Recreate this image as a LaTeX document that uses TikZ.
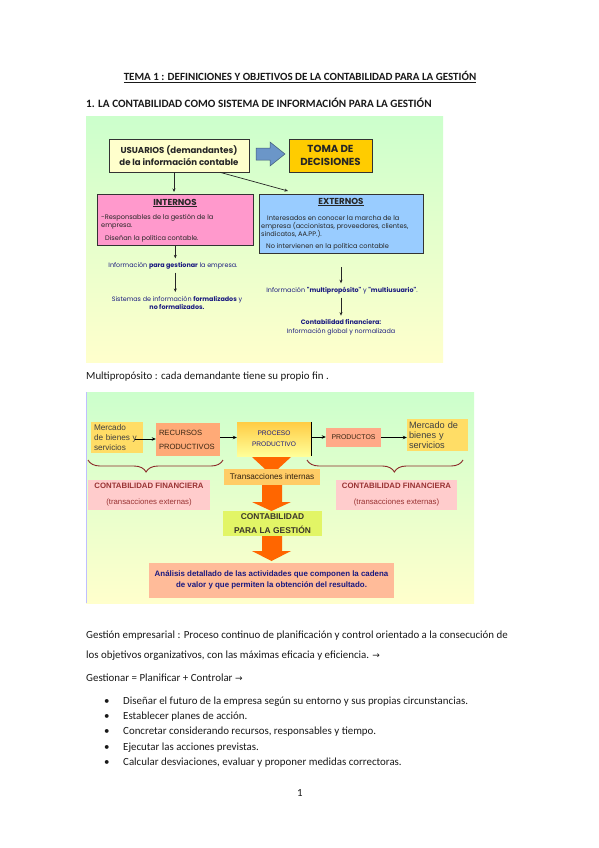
\documentclass[tikz,border=0pt]{standalone}
\usepackage{fontspec}
\setmainfont{Carlito}
\newfontfamily\dfont{Liberation Sans}
\newfontfamily\gfont{Poppins}
\newfontfamily\symf{DejaVu Sans}
\usetikzlibrary{decorations.pathreplacing,arrows.meta}
\definecolor{bggreen}{HTML}{CCFFCC}
\definecolor{bgyellow}{HTML}{FFFFCC}
\definecolor{usufill}{HTML}{FFFFCC}
\definecolor{gold}{HTML}{FFCC00}
\definecolor{pinkfill}{HTML}{FF99CC}
\definecolor{bluefill}{HTML}{99CCFF}
\definecolor{arrowblue}{HTML}{6B96C8}
\definecolor{navy}{HTML}{1A1A80}
\definecolor{mfill}{HTML}{FFDD66}
\definecolor{recfill}{HTML}{FFAA77}
\definecolor{prodfill}{HTML}{FFAA88}
\definecolor{cffill}{HTML}{FFCCCC}
\definecolor{cfred}{HTML}{993333}
\definecolor{transfill}{HTML}{FFCC66}
\definecolor{cgfill}{HTML}{E2F566}
\definecolor{anfill}{HTML}{FFBB99}
\definecolor{orangeA}{HTML}{FF6600}
\definecolor{bracecol}{HTML}{8B2A2A}
\definecolor{proctop}{HTML}{FFCC44}
\definecolor{procbot}{HTML}{FFFF99}
\begin{document}
\begin{tikzpicture}[x=1pt,y=-1pt,
  body/.style={anchor=west, inner sep=0pt, text=black!90, font=\fontsize{10.9}{12}\selectfont},
  arr/.style={-{Stealth[length=3.5pt,width=3pt]}, line width=0.7pt, black!85},
  arrb/.style={-{Stealth[length=4pt,width=3.5pt]}, line width=0.9pt, black},
  d1box/.style={draw=black!80, line width=0.6pt, inner sep=0pt},
  small/.style={inner sep=0pt, font=\gfont\fontsize{6.6}{8}\selectfont, text=black!85},
  smallnavy/.style={inner sep=0pt, font=\gfont\fontsize{6.4}{8.5}\selectfont, text=navy, align=center},
  d2box/.style={inner sep=0pt, draw=none},
  orarrow/.style={fill=orangeA}
]
\useasboundingbox[fill=white] (0,0) rectangle (599,848);

% headings
\node[inner sep=0pt, font=\bfseries\fontsize{11}{12}\selectfont, text=black!90] (title) at (300,77) {\underline{TEMA 1 : DEFINICIONES Y OBJETIVOS DE LA CONTABILIDAD PARA LA GESTIÓN}};
\node[body, font=\bfseries\fontsize{11.2}{12}\selectfont] (head1) at (86,103) {1. LA CONTABILIDAD COMO SISTEMA DE INFORMACIÓN PARA LA GESTIÓN};

% ---------- diagram 1
\shade[top color=bggreen, bottom color=bgyellow] (86,117) rectangle (443,362);

\node[d1box, fill=usufill, minimum width=140, minimum height=33, align=center,
  font=\gfont\bfseries\fontsize{8.6}{12}\selectfont, text=black!85] (usu) at (179,155.5)
  {USUARIOS (demandantes)\\de la información contable};
\node[d1box, fill=gold, minimum width=83, minimum height=33, align=center,
  font=\gfont\bfseries\fontsize{10.2}{13}\selectfont, text=black!85] (toma) at (330.5,155.5)
  {TOMA DE\\DECISIONES};
\draw[fill=arrowblue, draw=arrowblue!60!black, line width=0.5pt]
  (256,148) -- (270,148) -- (270,142) -- (285,154) -- (270,166) -- (270,160) -- (256,160) -- cycle;

\node[d1box, fill=pinkfill, minimum width=156, minimum height=51, anchor=north west] (int) at (97,194) {};
\node[d1box, fill=bluefill, minimum width=164, minimum height=59, anchor=north west] (ext) at (259,194) {};

\node[inner sep=0pt, font=\gfont\bfseries\fontsize{8.7}{10}\selectfont, text=black!85] (intt) at (175,203) {\underline{INTERNOS}};
\node[small, anchor=west] (int1) at (101,218) {-Responsables de la gestión de la};
\node[small, anchor=west] (int2) at (101,227) {empresa.};
\node[small, anchor=west] (int3) at (105,238.5) {Diseñan la política contable.};

\node[inner sep=0pt, font=\gfont\bfseries\fontsize{8.7}{10}\selectfont, text=black!85] (extt) at (341,202) {\underline{EXTERNOS}};
\node[small, anchor=west] (ext1) at (267,218) {Interesados en conocer la marcha de la};
\node[small, anchor=west] (ext2) at (261,226.5) {empresa (accionistas, proveedores, clientes,};
\node[small, anchor=west] (ext3) at (261,234) {sindicatos, AA.PP.).};
\node[small, anchor=west] (ext4) at (266,246.5) {No intervienen en la política contable};

\draw[arr] ([xshift=-5pt]usu.south) -- ([xshift=-5pt,yshift=2pt]usu.south |- int.north);
\draw[arr] ([xshift=41pt]usu.south) -- ([xshift=29pt,yshift=3pt]ext.north west);

\node[smallnavy] (t1) at (173,266) {Información \textbf{para gestionar} la empresa.};
\node[smallnavy] (t2) at (177,303) {Sistemas de información \textbf{formalizados} y\\\textbf{no formalizados.}};
\draw[arr] (int.south) -- ([yshift=4pt]int.south |- t1.north);
\draw[arr] ([yshift=-3pt]int.south |- t1.south) -- ([yshift=4pt]int.south |- t2.north);

\coordinate (c1) at (341,267);
\node[smallnavy] (t3) at (342,291) {Información \textbf{"multipropósito"} y \textbf{"multiusuario"}.};
\node[smallnavy] (t4) at (341,327.5) {\textbf{Contabilidad financiera:}\\Información global y normalizada};
\draw[arr] (c1) -- ([yshift=4pt]c1 |- t3.north);
\draw[arr] ([yshift=-3pt]c1 |- t3.south) -- ([yshift=4pt]c1 |- t4.north);

\node[body] (multi) at (86,377) {Multipropósito : cada demandante tiene su propio fin .};

% ---------- diagram 2
\shade[top color=bggreen, bottom color=bgyellow] (86,392) rectangle (474,603);
\draw[blue!25, line width=0.8pt] (86.4,392) -- (86.4,603);

\node[d2box, fill=mfill, minimum width=52, minimum height=31, text width=46pt, inner xsep=3pt, align=left,
  font=\dfont\fontsize{8.2}{9.8}\selectfont, text=black!75] (m1) at (117,437.5) {Mercado\\de bienes y\\servicios};
\node[d2box, fill=recfill, minimum width=64, minimum height=33, text width=58pt, align=left,
  font=\dfont\fontsize{7.6}{14}\selectfont, text=black!70!brown] (rec) at (188,439.5) {RECURSOS\\PRODUCTIVOS};
\node[d2box, top color=proctop, bottom color=procbot, minimum width=74, minimum height=34, align=center,
  font=\dfont\fontsize{6.6}{11}\selectfont, text=navy] (proc) at (274,439) {PROCESO\\PRODUCTIVO};
\draw[black, line width=0.9pt] (proc.north east) -- (proc.south east);
\node[d2box, fill=prodfill, minimum width=55, minimum height=19, font=\dfont\fontsize{6.9}{8}\selectfont, text=black!70!brown] (prod) at (353.5,437.5) {PRODUCTOS};
\node[d2box, fill=mfill, minimum width=61, minimum height=32, text width=57pt, inner xsep=2pt, align=left,
  font=\dfont\fontsize{9.2}{9.9}\selectfont, text=black!75] (m2) at (437.5,435) {Mercado de\\bienes y\\servicios};

\draw[arrb] ([xshift=-8pt,yshift=-1.5pt]m1.east) -- ([yshift=-1.5pt]rec.west |- m1.east);
\draw[arrb] ([yshift=2pt]rec.east) -- ([yshift=2pt]rec.east -| proc.west);
\draw[arrb] ([yshift=2pt]proc.east) -- ([yshift=2pt]proc.east -| prod.west);
\draw[arrb] (prod.east) -- (prod.east -| m2.west);

\draw[bracecol, line width=0.9pt, decorate, decoration={brace, mirror, amplitude=12pt, aspect=0.43}] (88,460) -- (223,460);
\draw[bracecol, line width=0.9pt, decorate, decoration={brace, mirror, amplitude=12pt, aspect=0.56}] (307,460) -- (463,460);

% orange arrow behind transacciones
\fill[orarrow] (252,457) -- (291,457) -- (271.5,475) -- cycle;

\node[d2box, fill=transfill, minimum width=96, minimum height=16, font=\dfont\fontsize{8.2}{9}\selectfont, text=black!75!brown] (trans) at (272,477) {Transacciones internas};

\node[d2box, fill=cffill, minimum width=122, minimum height=30, align=center,
  font=\dfont\fontsize{7.8}{16}\selectfont, text=cfred] (cf1) at (149,495) {\textbf{CONTABILIDAD FINANCIERA}\\(transacciones externas)};
\node[d2box, fill=cffill, minimum width=121, minimum height=30, align=center,
  font=\dfont\fontsize{7.8}{16}\selectfont, text=cfred] (cf2) at (396.5,495) {\textbf{CONTABILIDAD FINANCIERA}\\(transacciones externas)};

\node[d2box, fill=cgfill, minimum width=99, minimum height=25, align=center,
  font=\dfont\bfseries\fontsize{8.4}{14}\selectfont, text=black!80!olive] (cg) at (272.5,523.5) {CONTABILIDAD\\PARA LA GESTIÓN};

\node[d2box, fill=anfill, minimum width=245, minimum height=35, align=center,
  font=\dfont\bfseries\fontsize{7.9}{10.5}\selectfont, text=navy] (an) at (271.5,580) {Análisis detallado de las actividades que componen la cadena\\de valor y que permiten la obtención del resultado.};

\fill[orarrow] (262,485) -- (282,485) -- (282,502) -- (291,502) -- (271.5,511) -- (252,502) -- (262,502) -- cycle;
\fill[orarrow] (262,536) -- (282,536) -- (282,551) -- (291,551) -- (271.5,561) -- (252,551) -- (262,551) -- cycle;

% ---------- text
\node[body] (g1) at (86,636) {Gestión empresarial : Proceso continuo de planificación y control orientado a la consecución de};
\node[body] (g2) at (86,656) {los objetivos organizativos, con las máximas eficacia y eficiencia. {\symf\fontsize{9}{10}\selectfont →}};
\node[body] (g3) at (86,678) {Gestionar = Planificar + Controlar {\symf\fontsize{9}{10}\selectfont →}};

\foreach \yy/\tx [count=\i] in {702/{Diseñar el futuro de la empresa según su entorno y sus propias circunstancias.},
  717/{Establecer planes de acción.},
  732/{Concretar considerando recursos, responsables y tiempo.},
  748/{Ejecutar las acciones previstas.},
  763/{Calcular desviaciones, evaluar y proponer medidas correctoras.}} {
  \node[body] (bul\i) at (104,\yy) {•};
  \node[body] (item\i) at (123,\yy) {\tx};
}
\node[body, anchor=center] (pnum) at (300,793) {1};
\end{tikzpicture}
\end{document}
